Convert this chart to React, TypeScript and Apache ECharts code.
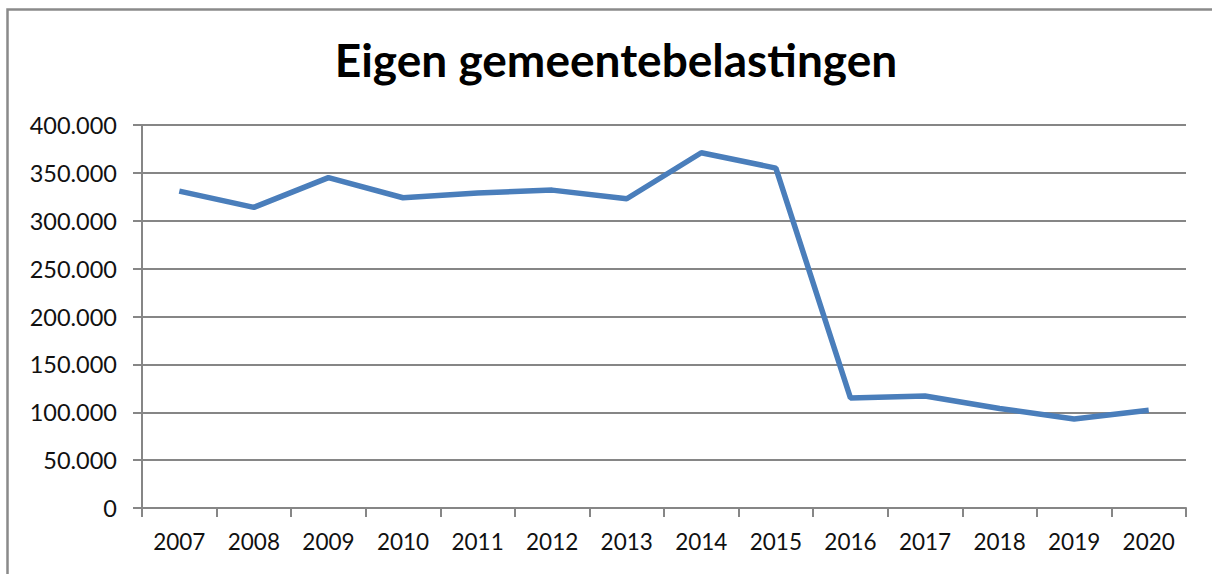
import React, { useEffect, useRef } from "react";
import * as echarts from "echarts";

const years = ["2007", "2008", "2009", "2010", "2011", "2012", "2013", "2014", "2015", "2016", "2017", "2018", "2019", "2020"];
const values = [331000, 314000, 345000, 324000, 329000, 332000, 323000, 371000, 355000, 115000, 117000, 104000, 93000, 102000];
const titleText = "Eigen gemeentebelastingen";

const fmt = (v: number) => {
  if (v === 0) return "0";
  const s = Math.round(v).toString();
  return s.replace(/\B(?=(\d{3})+(?!\d))/g, ".");
};

export default function App() {
  const ref = useRef<HTMLDivElement>(null);
  useEffect(() => {
    if (!ref.current) return;
    const chart = echarts.init(ref.current, undefined, { renderer: "svg" });
    const gray = "#868686";
    chart.setOption({
      animation: false,
      backgroundColor: "#ffffff",
      title: {
        text: titleText,
        left: 611,
        textAlign: "center",
        top: 31,
        textStyle: { fontFamily: "Lato", fontWeight: "bold", fontSize: 46, color: "#000000" },
      },
      graphic: [
        {
          type: "rect",
          shape: { x: 7.5, y: 9.5, width: 1400, height: 800 },
          style: { fill: "none", stroke: "#8a8a8a", lineWidth: 2.5 },
          silent: true,
        },
      ],
      grid: { left: 142, right: 26, top: 125, bottom: 66, containLabel: false },
      xAxis: {
        type: "category",
        data: years,
        boundaryGap: true,
        axisLine: { show: true, lineStyle: { color: gray, width: 2 } },
        axisTick: { show: true, length: 9, inside: false, alignWithLabel: false, lineStyle: { color: gray, width: 2 } },
        axisLabel: { margin: 22, fontFamily: "Lato", fontSize: 22.5, color: "#111111" },
        splitLine: { show: false },
      },
      yAxis: {
        type: "value",
        min: 0,
        max: 400000,
        interval: 50000,
        axisLine: { show: true, lineStyle: { color: gray, width: 2 } },
        axisTick: { show: true, length: 9, lineStyle: { color: gray, width: 2 } },
        axisLabel: { margin: 25, fontFamily: "Lato", fontSize: 23.5, color: "#111111", formatter: (v: number) => fmt(v) },
        splitLine: { show: true, lineStyle: { color: gray, width: 2 } },
      },
      series: [
        {
          type: "line",
          data: values,
          symbol: "none",
          lineStyle: { color: "#4A7EBB", width: 5.5 },
          itemStyle: { color: "#4A7EBB" },
        },
      ],
    });
    return () => chart.dispose();
  }, []);
  return <div ref={ref} style={{ position: "fixed", left: 0, top: 0, width: 1212, height: 574 }} />;
}
